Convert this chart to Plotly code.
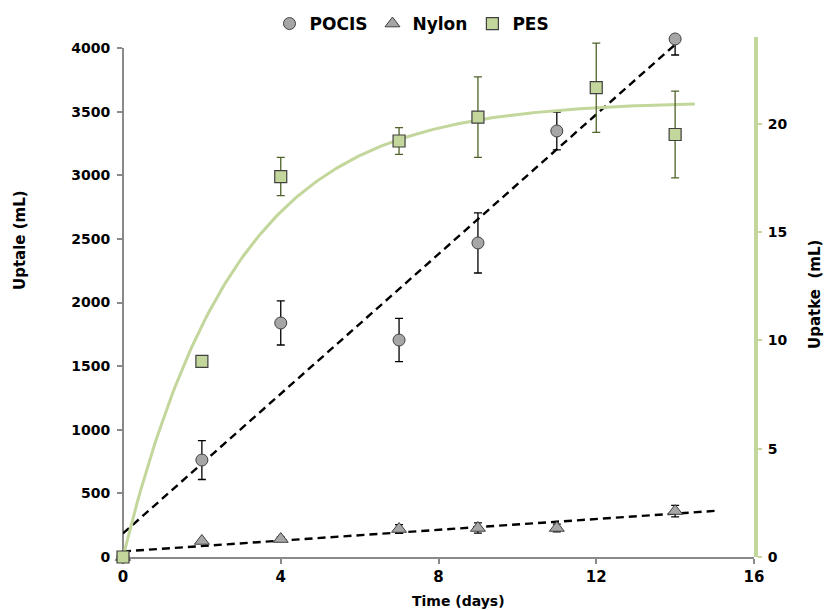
import numpy as np
import plotly.graph_objects as go

# Sampling days and measured uptake
days = [0, 2, 4, 7, 9, 11, 14]
pocis = [0, 762, 1839, 1705, 2468, 3348, 4071]
pocis_err = [0, 153, 173, 170, 236, 149, 126]
nylon = [0, 126, 141, 220, 228, 228, 361]
nylon_err = [0, 0, 15, 35, 40, 30, 45]

pes_days = [0, 2, 4, 7, 9, 12, 14]
pes = [0, 9.03, 17.56, 19.2, 20.3, 21.66, 19.5]
pes_err = [0, 0, 0.88, 0.62, 1.86, 2.06, 2.0]

x_ticks = [0, 4, 8, 12, 16]
left_ticks = list(range(0, 4001, 500))
right_ticks = [0, 5, 10, 15, 20]

# Linear trendlines (least squares)
t = np.array(days, dtype=float)
p_slope, p_int = np.polyfit(t, pocis, 1)
n_slope, n_int = np.polyfit(t, nylon, 1)
tp = np.array([0.0, t.max()])
tn = np.array([0.0, t.max() + 1])

# First-order saturation fit for PES: y = A (1 - exp(-k t))
tq = np.array(pes_days, dtype=float)
yq = np.array(pes, dtype=float)
best = None
for k in np.linspace(0.05, 1.5, 2901):
    f = 1 - np.exp(-k * tq)
    A = (yq * f).sum() / (f * f).sum()
    sse = ((yq - A * f) ** 2).sum()
    if best is None or sse < best[0]:
        best = (sse, A, k)
_, A_fit, k_fit = best
tc = np.linspace(0, tq.max() + 0.5, 200)
yc = A_fit * (1 - np.exp(-k_fit * tc))

GREEN = "#c3d69b"
GRAY_AX = "#898989"
MARK_GRAY = "#a6a6a6"
EDGE = "#404040"
DASH = "8px,5px"

fig = go.Figure()

fig.add_trace(go.Scatter(x=tp, y=p_int + p_slope * tp, mode="lines",
                         line=dict(color="black", width=2.4, dash=DASH),
                         showlegend=False, hoverinfo="skip", yaxis="y"))
fig.add_trace(go.Scatter(x=tn, y=n_int + n_slope * tn, mode="lines",
                         line=dict(color="black", width=2.4, dash=DASH),
                         showlegend=False, hoverinfo="skip", yaxis="y"))

fig.add_trace(go.Scatter(
    x=days, y=pocis, name="POCIS", mode="markers", yaxis="y", cliponaxis=False,
    marker=dict(symbol="circle", size=12, color=MARK_GRAY, line=dict(color=EDGE, width=1)),
    error_y=dict(type="data", array=pocis_err, color="black", thickness=1.3, width=4)))
fig.add_trace(go.Scatter(
    x=days, y=nylon, name="Nylon", mode="markers", yaxis="y", cliponaxis=False,
    marker=dict(symbol="triangle-up", size=13, color=MARK_GRAY, line=dict(color=EDGE, width=1)),
    error_y=dict(type="data", array=nylon_err, color="black", thickness=1.3, width=4)))

fig.add_trace(go.Scatter(x=tc, y=yc, mode="lines", yaxis="y2",
                         line=dict(color=GREEN, width=3),
                         showlegend=False, hoverinfo="skip"))
fig.add_trace(go.Scatter(
    x=pes_days, y=pes, name="PES", mode="markers", yaxis="y2", cliponaxis=False,
    marker=dict(symbol="square", size=12, color=GREEN, line=dict(color=EDGE, width=1.2)),
    error_y=dict(type="data", array=pes_err, color="#4f6228", thickness=1.3, width=4)))

L, R, T, B = 123, 72, 37, 53
W, H = 826, 610
ph = H - T - B
pw = W - L - R


def px_x(px):
    return (px - L) / pw


def px_y(py):
    return (H - B - py) / ph


# Left scale: 0..4000 occupies the plot height from the bottom up to y=48 px
left_top = 4000 * ph / (H - B - 48)

fig.update_layout(
    width=W, height=H,
    margin=dict(l=L, r=R, t=T, b=B, autoexpand=False),
    paper_bgcolor="white", plot_bgcolor="rgba(0,0,0,0)",
    font=dict(family="DejaVu Sans", size=14, color="black", weight="bold"),
    xaxis=dict(range=[0, 16], tickvals=x_ticks, showgrid=False, zeroline=False,
               showline=True, linecolor=GRAY_AX, linewidth=2,
               ticks="outside", ticklen=5, tickcolor=GRAY_AX, tickwidth=1.5,
               anchor="y", tickfont=dict(size=15, weight="bold")),
    yaxis=dict(range=[0, left_top], domain=[0, 1], tickvals=left_ticks,
               showgrid=False, zeroline=False, showline=False,
               ticks="outside", ticklen=5, tickcolor=GRAY_AX, tickwidth=1.5,
               ticklabelstandoff=4, tickfont=dict(size=14, weight="bold")),
    yaxis2=dict(range=[0, 24], domain=[0, 1], anchor="x", side="right",
                tickvals=right_ticks, showgrid=False, zeroline=False, showline=True,
                linecolor=GREEN, linewidth=4, ticks="outside", ticklen=4,
                tickcolor=GREEN, tickwidth=2, ticklabelstandoff=3,
                tickfont=dict(size=14, weight="bold")),
    shapes=[dict(type="line", xref="paper", yref="y", x0=0, x1=0, y0=0, y1=4000,
                 line=dict(color=GRAY_AX, width=2), layer="below")],
    legend=dict(orientation="h", x=px_x(412), xanchor="center", y=px_y(24),
                yanchor="middle", font=dict(size=17, weight="bold"),
                bgcolor="rgba(0,0,0,0)", itemclick=False),
    annotations=[
        dict(text="Time (days)", x=px_x(458), y=px_y(601), xref="paper", yref="paper",
             xanchor="center", yanchor="middle",
             showarrow=False, font=dict(size=14, weight="bold")),
        dict(text="Uptale (mL)", x=px_x(20), y=px_y(240), xref="paper", yref="paper",
             xanchor="center", yanchor="middle",
             textangle=-90, showarrow=False, font=dict(size=15, weight="bold")),
        dict(text="Upatke\u00a0 (mL)", x=px_x(815), y=px_y(295), xref="paper", yref="paper",
             xanchor="center", yanchor="middle",
             textangle=-90, showarrow=False, font=dict(size=15, weight="bold")),
    ],
)

fig.write_html("out.html")
